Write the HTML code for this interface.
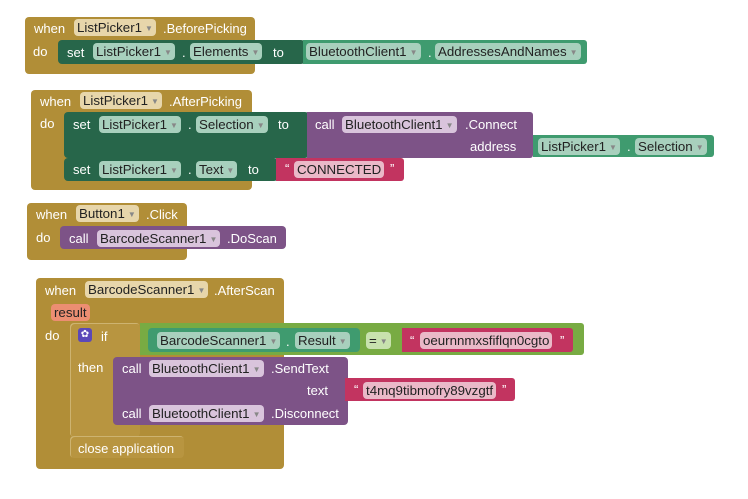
<!DOCTYPE html>
<html><head><meta charset="utf-8"><style>
body{margin:0;width:748px;height:499px;background:#fff;position:relative;overflow:hidden;font-family:"Liberation Sans",sans-serif;font-size:13px;}
.b{position:absolute;border-radius:4px;}
.t{position:absolute;color:#fff;white-space:nowrap;line-height:15px;}
.f{position:absolute;border-radius:4px;color:#222;white-space:nowrap;line-height:17px;height:17px;padding:0 3px;font-size:13.3px;margin-top:-1px}
.f .a{font-size:8px;color:#888;margin-left:3px;vertical-align:1px}
.gold{background:#b18e37}
.dg{background:#27664a}
.tl{background:#3f9b6f}
.pu{background:#7d5387}
.pk{background:#c23460}
.lg{background:#78ab43}
.fg{background:#e7d6ab}
.ft{background:#a8d0bd}
.fp{background:#d9c4dc}
.fk{background:#eab9c8}
.fl{background:#c8e2ae}
</style></head><body>

<!-- Block 1 -->
<div class="b gold" style="left:25px;top:17px;width:230px;height:57px"></div>
<div class="b dg" style="left:58px;top:40px;width:247px;height:24px"></div>
<div class="b tl" style="left:303px;top:40px;width:284px;height:24px;border-radius:0 3px 3px 0"></div>
<div class="t" style="left:34px;top:21px">when</div>
<div class="f fg" style="left:74px;top:20px">ListPicker1<span class="a">▼</span></div>
<div class="t" style="left:163px;top:21px">.BeforePicking</div>
<div class="t" style="left:33px;top:44px">do</div>
<div class="t" style="left:67px;top:45px">set</div>
<div class="f ft" style="left:93px;top:44px">ListPicker1<span class="a">▼</span></div>
<div class="t" style="left:182px;top:45px">.</div>
<div class="f ft" style="left:190px;top:44px">Elements<span class="a">▼</span></div>
<div class="t" style="left:273px;top:45px">to</div>
<div class="f ft" style="left:306px;top:44px">BluetoothClient1<span class="a">▼</span></div>
<div class="t" style="left:428px;top:45px">.</div>
<div class="f ft" style="left:435px;top:44px">AddressesAndNames<span class="a">▼</span></div>

<!-- Block 2 -->
<div class="b gold" style="left:31px;top:90px;width:221px;height:100px"></div>
<div class="b dg" style="left:64px;top:112px;width:245px;height:46px"></div>
<div class="b dg" style="left:64px;top:158px;width:214px;height:23px"></div>
<div class="b pu" style="left:307px;top:112px;width:226px;height:46px;border-radius:0 3px 3px 0"></div>
<div class="b tl" style="left:533px;top:135px;width:181px;height:22px;border-radius:0 3px 3px 0"></div>
<div class="b pk" style="left:276px;top:158px;width:128px;height:23px;border-radius:0 3px 3px 0"></div>
<div class="t" style="left:40px;top:94px">when</div>
<div class="f fg" style="left:80px;top:93px">ListPicker1<span class="a">▼</span></div>
<div class="t" style="left:169px;top:94px">.AfterPicking</div>
<div class="t" style="left:40px;top:116px">do</div>
<div class="t" style="left:73px;top:117px">set</div>
<div class="f ft" style="left:99px;top:117px">ListPicker1<span class="a">▼</span></div>
<div class="t" style="left:188px;top:117px">.</div>
<div class="f ft" style="left:196px;top:117px">Selection<span class="a">▼</span></div>
<div class="t" style="left:278px;top:117px">to</div>
<div class="t" style="left:315px;top:117px">call</div>
<div class="f fp" style="left:342px;top:117px">BluetoothClient1<span class="a">▼</span></div>
<div class="t" style="left:465px;top:117px">.Connect</div>
<div class="t" style="left:470px;top:139px">address</div>
<div class="f ft" style="left:538px;top:139px">ListPicker1<span class="a">▼</span></div>
<div class="t" style="left:627px;top:139px">.</div>
<div class="f ft" style="left:635px;top:139px">Selection<span class="a">▼</span></div>
<div class="t" style="left:73px;top:162px">set</div>
<div class="f ft" style="left:99px;top:162px">ListPicker1<span class="a">▼</span></div>
<div class="t" style="left:188px;top:162px">.</div>
<div class="f ft" style="left:196px;top:162px">Text<span class="a">▼</span></div>
<div class="t" style="left:248px;top:162px">to</div>
<div class="t" style="left:285px;top:161px">“</div>
<div class="f fk" style="left:294px;top:162px">CONNECTED</div>
<div class="t" style="left:390px;top:161px">”</div>

<!-- Block 3 -->
<div class="b gold" style="left:27px;top:203px;width:160px;height:57px"></div>
<div class="b pu" style="left:60px;top:226px;width:226px;height:23px"></div>
<div class="t" style="left:36px;top:207px">when</div>
<div class="f fg" style="left:76px;top:206px">Button1<span class="a">▼</span></div>
<div class="t" style="left:146px;top:207px">.Click</div>
<div class="t" style="left:36px;top:230px">do</div>
<div class="t" style="left:69px;top:231px">call</div>
<div class="f fp" style="left:97px;top:231px">BarcodeScanner1<span class="a">▼</span></div>
<div class="t" style="left:227px;top:231px">.DoScan</div>

<!-- Block 4 -->
<div class="b gold" style="left:36px;top:278px;width:248px;height:191px"></div>
<div class="b" style="left:70px;top:323px;width:70px;height:114px;background:#b89540;box-shadow:inset 1px 1px 0 #cdb370"></div>
<div class="b" style="left:70px;top:436px;width:114px;height:22px;background:#b89540;box-shadow:inset 1px 1px 0 #cdb370"></div>
<div class="b lg" style="left:140px;top:323px;width:444px;height:32px;border-radius:0 3px 3px 0"></div>
<div class="b tl" style="left:148px;top:328px;width:212px;height:24px"></div>
<div class="b pk" style="left:402px;top:328px;width:171px;height:24px;border-radius:0 3px 3px 0"></div>
<div class="b pu" style="left:113px;top:357px;width:235px;height:68px"></div>
<div class="b pk" style="left:345px;top:378px;width:170px;height:23px;border-radius:0 3px 3px 0"></div>
<div class="t" style="left:45px;top:283px">when</div>
<div class="f fg" style="left:85px;top:282px">BarcodeScanner1<span class="a">▼</span></div>
<div class="t" style="left:214px;top:283px">.AfterScan</div>
<div class="f" style="left:51px;top:305px;background:#ec8e72">result</div>
<div class="t" style="left:45px;top:328px">do</div>
<div class="b" style="left:78px;top:328px;width:14px;height:14px;background:#5b48b8;border-radius:3px;color:#fff;font-size:10px;line-height:14px;text-align:center">✿</div>
<div class="t" style="left:101px;top:329px">if</div>
<div class="f ft" style="left:157px;top:333px">BarcodeScanner1<span class="a">▼</span></div>
<div class="t" style="left:286px;top:334px">.</div>
<div class="f ft" style="left:295px;top:333px">Result<span class="a">▼</span></div>
<div class="f fl" style="left:366px;top:333px">=<span class="a">▼</span></div>
<div class="t" style="left:410px;top:333px">“</div>
<div class="f fk" style="left:420px;top:333px">oeurnnmxsfiflqn0cgto</div>
<div class="t" style="left:560px;top:333px">”</div>
<div class="t" style="left:78px;top:360px">then</div>
<div class="t" style="left:122px;top:361px">call</div>
<div class="f fp" style="left:149px;top:361px">BluetoothClient1<span class="a">▼</span></div>
<div class="t" style="left:271px;top:361px">.SendText</div>
<div class="t" style="left:307px;top:383px">text</div>
<div class="t" style="left:354px;top:382px">“</div>
<div class="f fk" style="left:363px;top:383px">t4mq9tibmofry89vzgtf</div>
<div class="t" style="left:502px;top:382px">”</div>
<div class="t" style="left:122px;top:406px">call</div>
<div class="f fp" style="left:149px;top:406px">BluetoothClient1<span class="a">▼</span></div>
<div class="t" style="left:271px;top:406px">.Disconnect</div>
<div class="t" style="left:78px;top:441px">close application</div>
</body></html>
